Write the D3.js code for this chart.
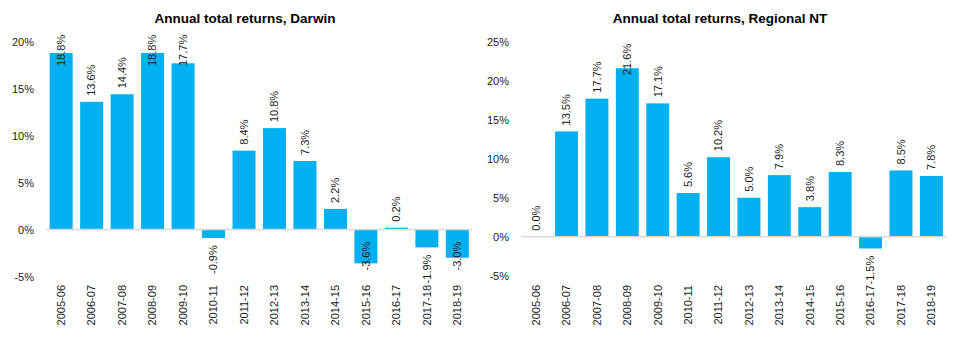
<!DOCTYPE html>
<html>
<head>
<meta charset="utf-8">
<script src="https://cdn.jsdelivr.net/npm/d3@7"></script>
<style>
body { margin: 0; background: #fff; }
svg { display: block; font-family: "Liberation Sans", Arial, sans-serif; }
</style>
</head>
<body>
<svg id="chart" width="958" height="348"></svg>
<script>
var years = ["2005-06", "2006-07", "2007-08", "2008-09", "2009-10", "2010-11", "2011-12",
	"2012-13", "2013-14", "2014-15", "2015-16", "2016-17", "2017-18", "2018-19"];

var darwinReturns = [18.8, 13.6, 14.4, 18.8, 17.7, -0.9, 8.4, 10.8, 7.3, 2.2, -3.6, 0.2, -1.9, -3.0];
var regionalReturns = [0.0, 13.5, 17.7, 21.6, 17.1, 5.6, 10.2, 5.0, 7.9, 3.8, 8.3, -1.5, 8.5, 7.8];

var darwinTicks = [-5, 0, 5, 10, 15, 20];
var regionalTicks = [-5, 0, 5, 10, 15, 20, 25];

var svg = d3.select("#chart");
var barColor = "#00b0f0";
var textColor = "#1a1a1a";

function drawChart(opts) {
	var g = svg.append("g");

	var x = d3.scaleBand()
		.domain(years)
		.range([opts.left, opts.right])
		.paddingInner(0.245)
		.paddingOuter(0.12)
		;

	var y = d3.scaleLinear()
		.domain([opts.ticks[0], opts.ticks[opts.ticks.length - 1]])
		.range([opts.bottom, opts.top])
		;

	// title
	g.append("text")
		.attr("x", opts.titleX)
		.attr("y", 23)
		.attr("text-anchor", "middle")
		.style("font-size", "13.5px")
		.style("font-weight", "bold")
		.style("fill", "#000")
		.text(opts.title);

	// y axis, labels only
	var yAxis = g.append("g")
		.attr("transform", "translate(" + opts.left + ",0)")
		.call(d3.axisLeft(y)
			.tickValues(opts.ticks)
			.tickSize(0)
			.tickPadding(12)
			.tickFormat(function(d) { return d + "%"; }));
	yAxis.select(".domain").remove();
	yAxis.selectAll("text")
		.style("font-family", "Liberation Sans, Arial, sans-serif")
		.style("font-size", "11px")
		.style("fill", textColor);

	// bars
	g.selectAll("rect.bar")
		.data(opts.values)
		.enter()
		.append("rect")
		.attr("class", "bar")
		.attr("x", function(d, i) { return x(years[i]); })
		.attr("width", x.bandwidth())
		.attr("y", function(d) { return y(Math.max(0, d)); })
		.attr("height", function(d) { return Math.abs(y(d) - y(0)); })
		.style("fill", barColor);

	// zero line
	g.append("line")
		.attr("x1", opts.left)
		.attr("x2", opts.right)
		.attr("y1", y(0))
		.attr("y2", y(0))
		.style("stroke", "#d9d9d9")
		.style("stroke-width", 1.5);

	// category labels, rotated
	g.selectAll("text.cat")
		.data(years)
		.enter()
		.append("text")
		.attr("class", "cat")
		.attr("transform", function(d) {
			return "translate(" + (x(d) + x.bandwidth() / 2) + "," + 285 + ") rotate(-90)";
		})
		.attr("dy", "0.35em")
		.attr("text-anchor", "end")
		.style("font-size", "11px")
		.style("fill", textColor)
		.text(function(d) { return d; });

	// value labels, rotated, pushed back inside the plot when they run out
	var labelLen = 30;
	g.selectAll("text.val")
		.data(opts.values)
		.enter()
		.append("text")
		.attr("class", "val")
		.attr("transform", function(d, i) {
			var cx = x(years[i]) + x.bandwidth() / 2;
			var pos;
			if (d >= 0) {
				pos = y(d) - 6;
				if (pos - labelLen < opts.labelTop) pos = opts.labelTop + labelLen;
			} else {
				pos = y(d) + 6 + labelLen;
				if (pos > 286) pos = y(opts.ticks[0]) - 6;
			}
			return "translate(" + cx + "," + pos + ") rotate(-90)";
		})
		.attr("dy", "0.35em")
		.attr("text-anchor", "start")
		.style("font-size", "11px")
		.style("fill", textColor)
		.text(function(d) { return d.toFixed(1) + "%"; });
}

drawChart({
	title: "Annual total returns, Darwin",
	titleX: 245,
	values: darwinReturns,
	ticks: darwinTicks,
	left: 46,
	right: 472.5,
	top: 41.7,
	bottom: 276.5,
	labelTop: 36
});

drawChart({
	title: "Annual total returns, Regional NT",
	titleX: 720,
	values: regionalReturns,
	ticks: regionalTicks,
	left: 521,
	right: 946.5,
	top: 41.7,
	bottom: 275.8,
	labelTop: 45
});
</script>
</body>
</html>
